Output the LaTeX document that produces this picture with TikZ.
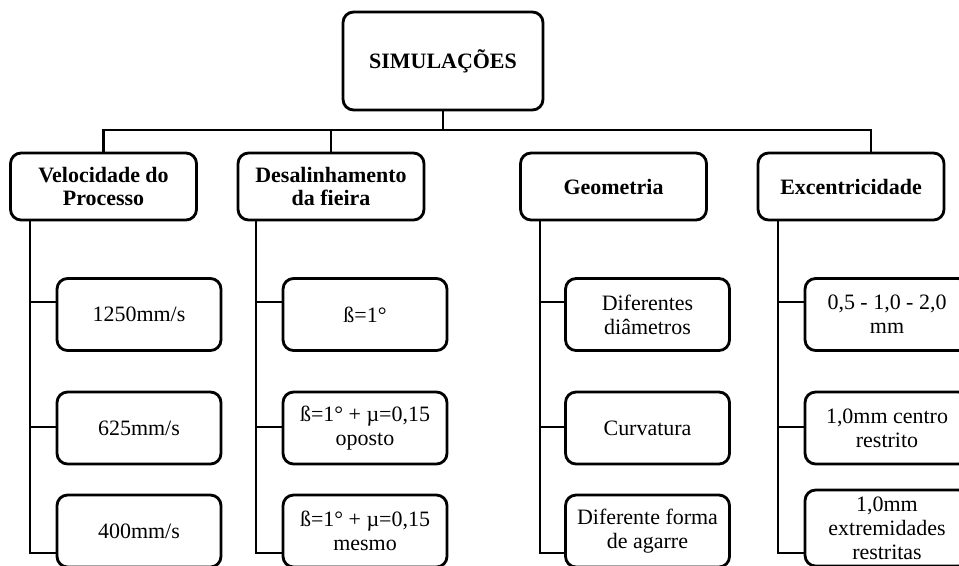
\documentclass[tikz,border=0pt]{standalone}
\usepackage{fontspec}
\setmainfont{Liberation Serif}
\usetikzlibrary{calc}
\tikzset{
	boxed/.style={draw, rounded corners=6pt, line width=1.6pt, align=center, inner sep=2pt, font=\fontsize{12.5}{13.6}\selectfont},
	head/.style={boxed, font=\fontsize{12.5}{13.6}\selectfont\bfseries, minimum width=4cm, minimum height=1.96cm},
	group/.style={boxed, font=\fontsize{12.5}{13.6}\selectfont\bfseries, minimum width=3.72cm, minimum height=1.34cm},
	item/.style={boxed, minimum width=3.28cm, minimum height=1.44cm},
	link/.style={line width=1.6pt},
}
\begin{document}
\begin{tikzpicture}[x=0.02cm, y=-0.02cm]
	\useasboundingbox (0,0) rectangle (959,565);
	\clip (0,0) rectangle (959,565);

	\node [head] (sim) at (443,61) {SIMULAÇÕES};
	\node [group] (vel) at (103.5,186.5) {Velocidade do\\Processo};
	\node [group] (des) at (331,186.5) {Desalinhamento\\da fieira};
	\node [group] (geo) at (613.5,186.5) {Geometria};
	\node [group] (exc) at (851,186.5) {Excentricidade};

	\node [item] (v1) at (139,314.5) {1250mm/s};
	\node [item] (v2) at (139,428) {625mm/s};
	\node [item] (v3) at (139,531) {400mm/s};
	\node [item] (d1) at (365,314.5) {ß=1°};
	\node [item] (d2) at (365,428) {ß=1° + µ=0,15\\oposto};
	\node [item] (d3) at (365,531) {ß=1° + µ=0,15\\mesmo};
	\node [item] (g1) at (647.5,314.5) {Diferentes\\diâmetros};
	\node [item] (g2) at (647.5,428) {Curvatura};
	\node [item] (g3) at (647.5,531) {Diferente forma\\de agarre};
	\node [item] (e1) at (887,314.5) {0,5 - 1,0 - 2,0\\mm};
	\node [item] (e2) at (887,428) {1,0mm centro\\restrito};
	\node [item, minimum height=1.52cm] (e3) at (887,528) {1,0mm\\extremidades\\restritas};

	\coordinate (bus) at (443,130);
	\draw [link] (sim) -- (bus);
	\draw [link] (vel.north) |- (bus) -| (exc.north -| 871,0);
	\draw [link] (des.north) -- (des.north |- bus);
	\foreach \grp/\kid/\tx in {vel/v/30, des/d/256, geo/g/540, exc/e/778} {
		\draw [link] (\grp.south -| \tx,0) |- (\kid3.west |- 0,553);
		\draw [link] (\tx,302) -- (\kid1.west |- 0,302);
		\draw [link] (\tx,427) -- (\kid2.west |- 0,427);
	}
\end{tikzpicture}
\end{document}
